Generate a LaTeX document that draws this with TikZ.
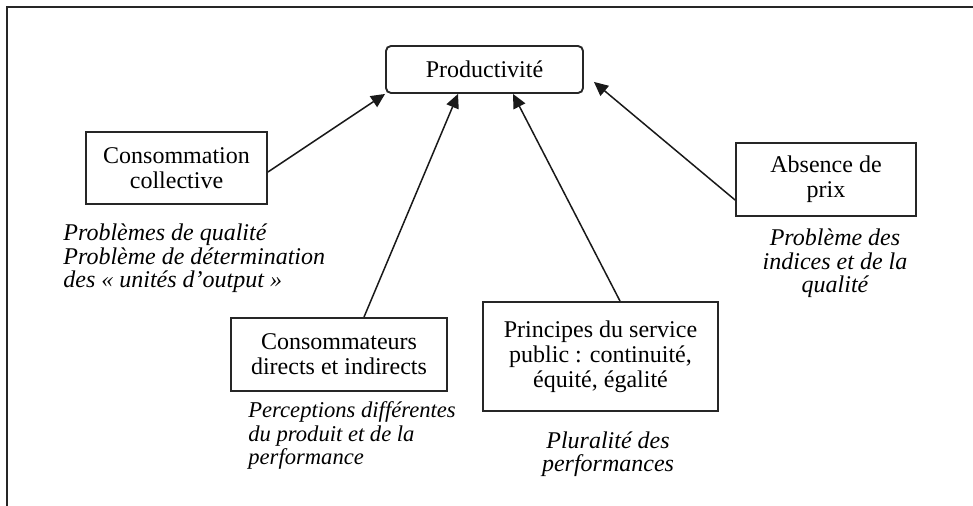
\documentclass[tikz,border=0pt]{standalone}
\usepackage{fontspec}
\setmainfont{Liberation Serif}
\usetikzlibrary{arrows.meta}
\begin{document}
\begin{tikzpicture}[x=0.5pt,y=-0.5pt,
  box/.style={draw=black!85, line width=0.95pt, align=center, font=\fontsize{12}{12.5}\selectfont, inner sep=0pt},
  note/.style={font=\fontsize{12}{11.75}\selectfont\itshape, inner sep=0pt},
  smallnote/.style={font=\fontsize{11.3}{11.75}\selectfont\itshape, inner sep=0pt},
  arr/.style={line width=0.75pt, draw=black!90, -{Triangle[length=7pt,width=6.5pt]}},
  frameline/.style={line width=1pt, draw=black!85}
]
\useasboundingbox (0,0) rectangle (973,506);
\draw[frameline] (7,506) -- (7,7) -- (973,7);

\node[box, rounded corners=2.5pt, minimum width=98.5pt, minimum height=23.5pt] (prod) at (484.5,69.5) {Productivité};
\node[box, minimum width=90.5pt, minimum height=36pt] (cc) at (176.5,168) {Consommation\\collective};
\node[box, minimum width=108pt, minimum height=36.5pt] (cd) at (339,354.5) {Consommateurs\\directs et indirects};
\node[box, minimum width=117.5pt, minimum height=54.5pt] (ps) at (600.5,356.5) {Principes du service\\public : continuité,\\équité, égalité};
\node[box, minimum width=90pt, minimum height=36.5pt] (ap) at (826,179.5) {Absence de\\prix};

\node[note, align=left, anchor=base west] (n1) at (63,288) {Problèmes de qualité\\Problème de détermination\\des « unités d’output »};
\node[smallnote, align=left, anchor=base west] (n2) at (248,465) {Perceptions différentes\\du produit et de la\\performance};
\node[note, align=center, anchor=base] (n3) at (608,472) {Pluralité des\\performances};
\node[note, align=center, anchor=base] (n4) at (835,293) {Problème des\\indices et de la\\qualité};

\draw[arr] ([yshift=-2pt]cc.east) -- (prod.south west);
\draw[arr] ([xshift=12.5pt]cd.north) -- ([xshift=-13.25pt]prod.south);
\draw[arr] ([xshift=9.75pt]ps.north) -- ([xshift=14.25pt]prod.south);
\draw[arr] ([yshift=-10.25pt]ap.west) -- ([xshift=5pt,yshift=6pt]prod.south east);
\end{tikzpicture}
\end{document}
